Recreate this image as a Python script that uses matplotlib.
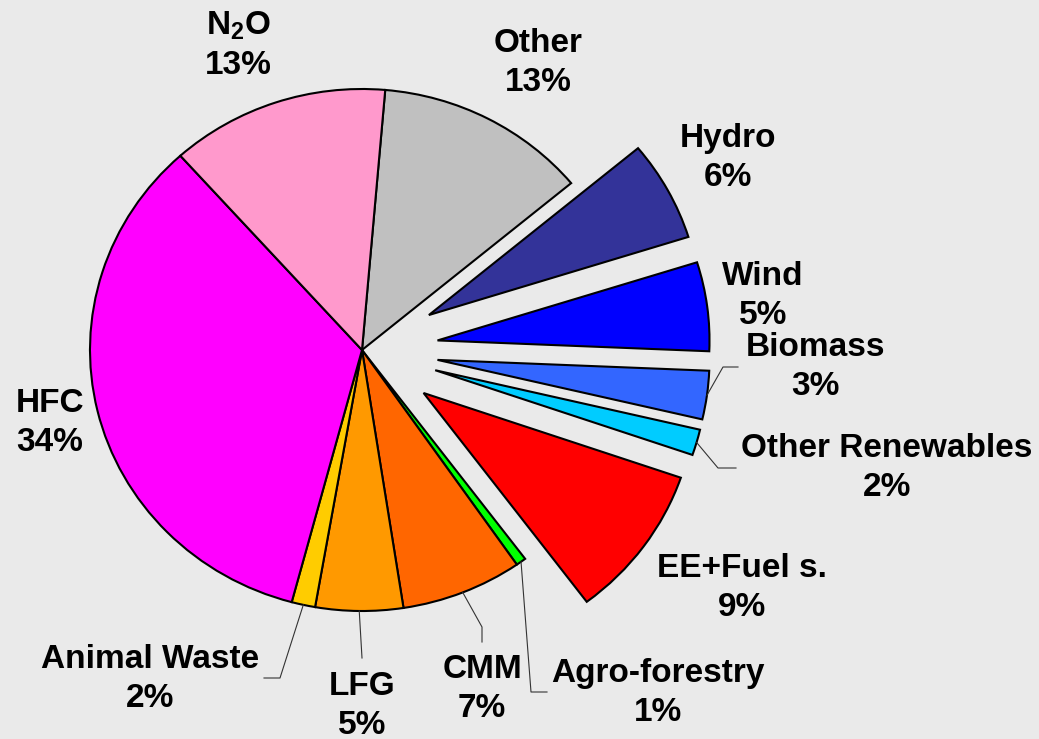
import numpy as np
import matplotlib
matplotlib.use("Agg")
import matplotlib.pyplot as plt

plt.rcParams['font.family'] = ['Liberation Sans', 'DejaVu Sans']
plt.rcParams['mathtext.fontset'] = 'custom'
plt.rcParams['mathtext.rm'] = 'Liberation Sans:bold'
plt.rcParams['mathtext.default'] = 'rm'

# shares, clockwise from the top
categories = ["Other", "Hydro", "Wind", "Biomass", "Other Renewables", "EE+Fuel s.",
              "Agro-forestry", "CMM", "LFG", "Animal Waste", "HFC", "N$_2$O"]
shares = [12.6, 6.2, 5.5, 3.0, 1.6, 9.5, 0.6, 7.2, 5.2, 1.4, 34.2, 13.0]
pct_labels = ["13%", "6%", "5%", "3%", "2%", "9%", "1%", "7%", "5%", "2%", "34%", "13%"]
exploded = ["Hydro", "Wind", "Biomass", "Other Renewables", "EE+Fuel s."]

colors = ["#C0C0C0", "#333399", "#0000FF", "#3366FF", "#00CCFF", "#FF0000",
          "#00FF00", "#FF6600", "#FF9900", "#FFCC00", "#FF00FF", "#FF99CC"]

bg = "#EAEAEA"
W, H = 1039, 739
cx, cy = 362, 350      # pie centre in pixels
rx, ry = 272, 261      # the original pie is a bit squashed


def px(x, y):
    # pixel (top-left origin) -> data coords
    return (x - cx) / rx, (cy - y) / ry


fig = plt.figure(figsize=(W / 100, H / 100), dpi=100, facecolor=bg)
ax = fig.add_axes([0, 0, 1, 1])
ax.set_facecolor(bg)

explode = [0.28 if c in exploded else 0 for c in categories]
wedges, _ = ax.pie(shares, colors=colors, explode=explode, startangle=85.1,
                   counterclock=False,
                   wedgeprops=dict(edgecolor="black", linewidth=1.5))
ax.set_aspect("auto")
ax.set_xlim(-cx / rx, (W - cx) / rx)
ax.set_ylim(-(H - cy) / ry, cy / ry)
ax.axis("off")

# label block centres (pixels)
label_pos = {
    "Other": (538, 63), "Hydro": (728, 158), "Wind": (763, 296),
    "Biomass": (815, 367), "Other Renewables": (887, 468),
    "EE+Fuel s.": (742, 588), "Agro-forestry": (658, 693), "CMM": (482, 689),
    "LFG": (362, 706), "Animal Waste": (150, 679), "HFC": (50, 423),
    "N$_2$O": (238, 45),
}
# leader lines: elbow points (pixels) after the wedge edge
leaders = {
    "Biomass": [(723, 367), (738, 367)],
    "Other Renewables": [(718, 468), (736, 468)],
    "Agro-forestry": [(531, 692), (547, 692)],
    "CMM": [(482, 627), (482, 642)],
    "LFG": [(362, 658)],
    "Animal Waste": [(280, 678), (264, 678)],
}

for w, name, pct in zip(wedges, categories, pct_labels):
    x, y = px(*label_pos[name])
    ax.text(x, y, name + "\n" + pct, ha="center", va="center", fontsize=24,
            fontweight="bold", linespacing=1.32, color="black")
    if name in leaders:
        mid = np.deg2rad((w.theta1 + w.theta2) / 2)
        x0 = w.center[0] + w.r * np.cos(mid)
        y0 = w.center[1] + w.r * np.sin(mid)
        pts = [(x0, y0)] + [px(*p) for p in leaders[name]]
        xs, ys = zip(*pts)
        ax.plot(xs, ys, color="#333333", lw=0.8)

fig.savefig("out.png", dpi=100, facecolor=bg)
